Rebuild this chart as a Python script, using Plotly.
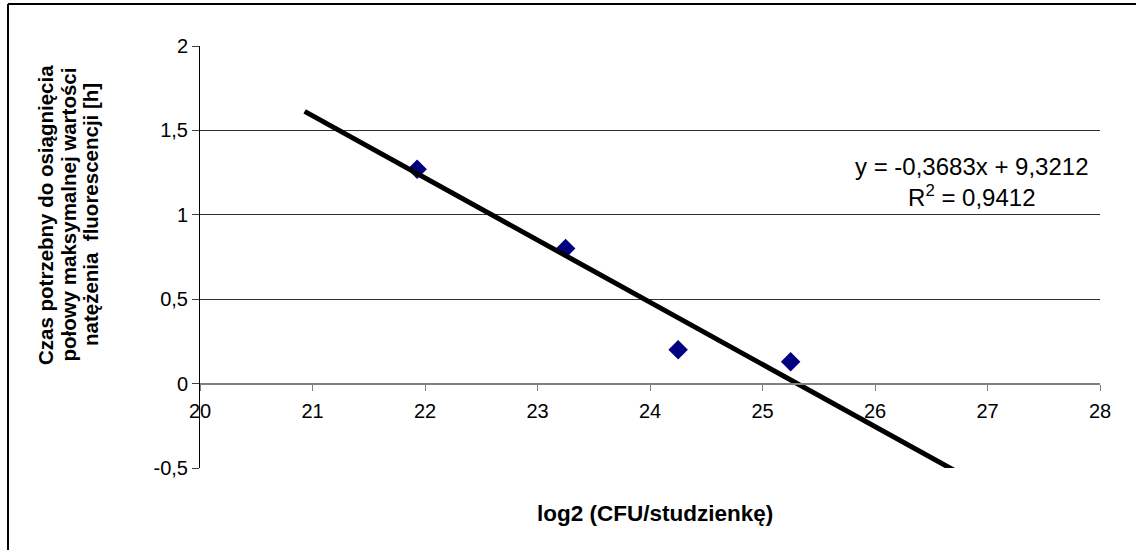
import plotly.graph_objects as go

# Measured points: log2 of CFU per well vs. time to half-maximal fluorescence
log2_cfu = [21.93, 23.25, 24.25, 25.25]
time_h = [1.27, 0.80, 0.20, 0.13]

# Linear trendline as reported on the chart
slope = -0.3683
intercept = 9.3212
r_squared = 0.9412
forecast_backward = 1.0
forecast_forward = 2.0

y_tick_vals = [-0.5, 0, 0.5, 1, 1.5, 2]
y_tick_text = ["-0,5", "0", "0,5", "1", "1,5", "2"]
x_tick_vals = [20, 21, 22, 23, 24, 25, 26, 27, 28]

y_title_lines = [
    "Czas potrzebny do osiągnięcia",
    "połowy maksymalnej wartości",
    "natężenia  fluorescencji [h]",
]
x_title = "log2 (CFU/studzienkę)"

FONT = "Liberation Sans, Arial, sans-serif"

# plot area in pixels: left 200, right 1100, top 46, bottom 468
PL, PW, PB, PH = 200, 900, 468, 422


def px(xpix):
    return (xpix - PL) / PW


def py(ypix):
    return (PB - ypix) / PH


trend_x = [min(log2_cfu) - forecast_backward, max(log2_cfu) + forecast_forward]
trend_y = [slope * x + intercept for x in trend_x]

fig = go.Figure()
fig.add_trace(go.Scatter(
    x=log2_cfu, y=time_h, mode="markers",
    marker=dict(symbol="diamond", size=15, color="#000080",
                line=dict(width=0)),
    showlegend=False,
))
fig.add_trace(go.Scatter(
    x=trend_x, y=trend_y, mode="lines",
    line=dict(color="black", width=5),
    showlegend=False,
))


def fmt(v, nd=4):
    return f"{v:.{nd}f}".replace(".", ",")


eq_text = (f"y = {fmt(slope)}x + {fmt(intercept)}<br>"
           f"R<sup>2</sup> = {fmt(r_squared)}")

y_min, y_max = -0.5, 2.0
x_axis_pos = (0 - y_min) / (y_max - y_min)

annotations = [
    dict(text=eq_text, xref="paper", yref="paper",
         x=px(972), y=py(182), xanchor="center", yanchor="middle",
         showarrow=False, align="center",
         font=dict(family=FONT, size=24)),
    dict(text=f"<b>{x_title}</b>", xref="paper", yref="paper",
         x=px(655), y=py(513), xanchor="center", yanchor="middle",
         showarrow=False, font=dict(family=FONT, size=22.5)),
]
for i, line in enumerate(y_title_lines):
    annotations.append(dict(
        text=f"<b>{line}</b>", xref="paper", yref="paper",
        x=px(45 + 22.5 * i), y=py(215), xanchor="center", yanchor="middle",
        textangle=-90, showarrow=False,
        font=dict(family=FONT, size=20.5)))

fig.update_layout(
    width=1136, height=550,
    margin=dict(l=PL, r=1136 - PL - PW, t=PB - PH, b=550 - PB),
    paper_bgcolor="white", plot_bgcolor="white",
    font=dict(family=FONT, size=20, color="black"),
    xaxis=dict(
        range=[20, 28], tickvals=x_tick_vals,
        showgrid=False, zeroline=False,
        showline=True, linecolor="#808080", linewidth=2,
        ticks="outside", ticklen=6, tickcolor="#808080", tickwidth=1,
        anchor="free", position=x_axis_pos,
        tickfont=dict(family=FONT, size=20),
        ticklabelstandoff=3,
    ),
    yaxis=dict(
        range=[y_min, y_max], tickvals=y_tick_vals, ticktext=y_tick_text,
        showgrid=True, gridcolor="#303030", gridwidth=1,
        zeroline=False,
        showline=True, linecolor="black", linewidth=1,
        ticks="outside", ticklen=7, tickcolor="#404040", tickwidth=1,
        tickfont=dict(family=FONT, size=20),
    ),
    annotations=annotations,
    shapes=[
        dict(type="line", xref="paper", yref="paper",
             x0=px(8), x1=px(1200), y0=py(4), y1=py(4),
             line=dict(color="black", width=2)),
        dict(type="line", xref="paper", yref="paper",
             x0=px(8), x1=px(8), y0=py(4), y1=py(600),
             line=dict(color="black", width=2)),
    ],
)

fig.write_html("out.html")
